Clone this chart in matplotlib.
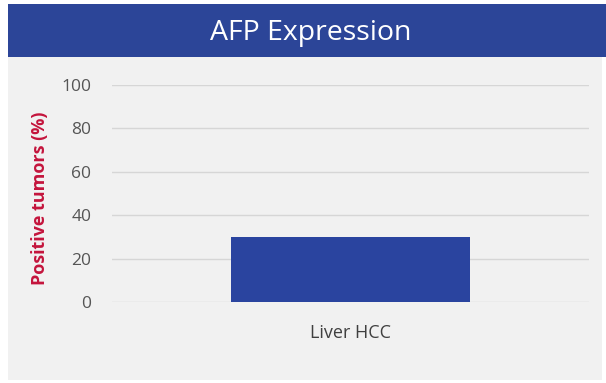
import matplotlib
matplotlib.use("Agg")
import matplotlib.pyplot as plt
from matplotlib.patches import Rectangle

categories = ["Liver HCC"]
positive_pct = [30]
y_ticks = [0, 20, 40, 60, 80, 100]

W, H = 606, 383
fig = plt.figure(figsize=(W / 100, H / 100), dpi=100)
fig.patch.set_facecolor("white")
plt.rcParams["font.family"] = ["Open Sans", "DejaVu Sans"]

def fx(px):
    return px / W

def fy(py):
    return 1 - py / H

# panel background and title band
fig.patches.append(Rectangle((fx(8), fy(380)), fx(594), (380 - 57) / H,
                             transform=fig.transFigure, facecolor="#f1f1f1",
                             edgecolor="none", zorder=0))
fig.patches.append(Rectangle((fx(8), fy(57)), fx(598), (57 - 4) / H,
                             transform=fig.transFigure, facecolor="#2c4598",
                             edgecolor="none", zorder=1))
fig.text(fx(311), fy(33), "AFP Expression", color="white", fontsize=20.5,
         ha="center", va="center", zorder=3)

ax = fig.add_axes([fx(112), fy(302), fx(589 - 112), (302 - 85) / H])
ax.set_zorder(5)
ax.set_facecolor("none")
ax.bar(range(len(categories)), positive_pct, width=0.5, color="#2a449f", zorder=3)
ax.set_xlim(-0.5, len(categories) - 0.5)
ax.set_ylim(0, 100)
ax.set_yticks(y_ticks)
ax.set_yticklabels([str(t) for t in y_ticks])
ax.set_xticks(range(len(categories)))
ax.set_xticklabels(categories)
ax.grid(axis="y", color="#d6d6d6", linewidth=1, zorder=0)
for s in ax.spines.values():
    s.set_visible(False)
ax.tick_params(axis="both", length=0, labelsize=12.5, colors="#555555")
ax.tick_params(axis="y", pad=15)
ax.tick_params(axis="x", pad=16, labelsize=13, labelcolor="#404040")
ax.set_ylabel("Positive tumors (%)", color="#c4143c", fontsize=13,
              fontweight="bold")
ax.yaxis.set_label_coords(fx(49 - 112) / fx(589 - 112), 0.48)

fig.savefig("out.png", dpi=100)
